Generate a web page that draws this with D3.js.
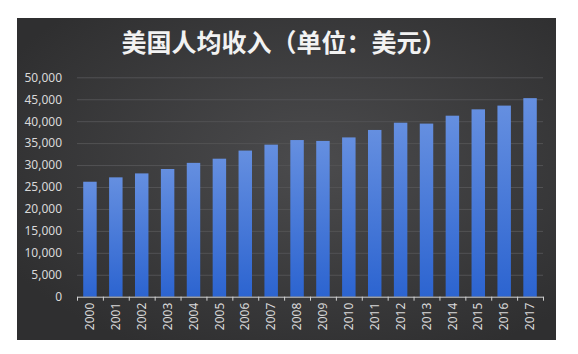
<!DOCTYPE html>
<html>
<head>
<meta charset="utf-8">
<script src="https://cdn.jsdelivr.net/npm/d3@7"></script>
<style>
  body { margin: 0; background: #fff; }
  svg { display: block; }
</style>
</head>
<body>
<div class="chart"></div>
<script>
    // data
    const years = ['2000','2001','2002','2003','2004','2005','2006','2007','2008',
        '2009','2010','2011','2012','2013','2014','2015','2016','2017'];
    const income = [26200, 27200, 28100, 29100, 30500, 31450, 33300, 34650, 35700,
        35500, 36300, 38000, 39650, 39450, 41250, 42700, 43550, 45250];
    const yTicks = [0, 5000, 10000, 15000, 20000, 25000, 30000, 35000, 40000, 45000, 50000];
    const title = '美国人均收入（单位：美元）';

    const W = 578, H = 354;
    const panel = {x: 17, y: 18, w: 539, h: 322};
    const plot = {left: 77, right: 543, top: 77.3, bottom: 296.7};

    const svg = d3.select('.chart')
        .append('svg')
        .attr('width', W)
        .attr('height', H);

    const defs = svg.append('defs');
    const bg = defs.append('radialGradient')
        .attr('id', 'bg')
        .attr('cx', '55%').attr('cy', '45%').attr('r', '65%');
    bg.append('stop').attr('offset', '0%').attr('stop-color', '#4b4b4d');
    bg.append('stop').attr('offset', '100%').attr('stop-color', '#2f2f30');

    const barGrad = defs.append('linearGradient')
        .attr('id', 'barGrad')
        .attr('x1', 0).attr('y1', 0).attr('x2', 0).attr('y2', 1);
    barGrad.append('stop').attr('offset', '0%').attr('stop-color', '#658fe0');
    barGrad.append('stop').attr('offset', '100%').attr('stop-color', '#2c64d0');

    svg.append('rect')
        .attr('x', panel.x).attr('y', panel.y)
        .attr('width', panel.w).attr('height', panel.h)
        .attr('fill', 'url(#bg)');

    svg.append('text')
        .attr('x', 284)
        .attr('y', 52)
        .attr('text-anchor', 'middle')
        .attr('fill', '#f2f2f2')
        .style('font-family', '"Noto Sans CJK SC", sans-serif')
        .style('font-size', '25px')
        .style('font-weight', 'bold')
        .text(title);

    const xScale = d3.scaleBand()
        .domain(years)
        .range([plot.left, plot.right])
        .paddingInner(0.48)
        .paddingOuter(0.24);
    const yScale = d3.scaleLinear()
        .domain([0, 50000])
        .range([plot.bottom, plot.top]);

    // gridlines
    svg.append('g')
        .attr('class', 'grid')
        .attr('transform', 'translate(' + plot.left + ',0)')
        .call(d3.axisLeft(yScale)
            .tickValues(yTicks.slice(1))
            .tickSize(-(plot.right - plot.left))
            .tickFormat(''))
        .call(g => g.select('.domain').remove())
        .call(g => g.selectAll('line').attr('stroke', '#525254').attr('stroke-width', 1));

    // y axis labels
    svg.append('g')
        .attr('class', 'yAxis')
        .attr('transform', 'translate(' + plot.left + ',0)')
        .call(d3.axisLeft(yScale)
            .tickValues(yTicks)
            .tickSize(0)
            .tickPadding(15)
            .tickFormat(d3.format(',')))
        .call(g => g.select('.domain').remove())
        .call(g => g.selectAll('text')
            .attr('fill', '#d9d9d9')
            .style('font-family', '"Noto Sans", sans-serif')
            .style('font-size', '12px'));

    // bars
    svg.append('g')
        .selectAll('rect')
        .data(income)
        .enter()
        .append('rect')
        .attr('x', (d, i) => xScale(years[i]))
        .attr('y', d => yScale(d))
        .attr('width', xScale.bandwidth())
        .attr('height', d => yScale(0) - yScale(d))
        .attr('fill', 'url(#barGrad)');

    // x axis: ticks between categories
    const edge = d3.scaleLinear().domain([0, years.length]).range([plot.left, plot.right]);
    svg.append('g')
        .attr('transform', 'translate(0,' + plot.bottom + ')')
        .call(d3.axisBottom(edge)
            .tickValues(d3.range(years.length + 1))
            .tickSize(4)
            .tickSizeOuter(0)
            .tickFormat(''))
        .call(g => g.selectAll('line, path').attr('stroke', '#d0d0d0'));

    svg.append('g')
        .attr('transform', 'translate(0,' + plot.bottom + ')')
        .call(d3.axisBottom(xScale).tickSize(0).tickPadding(0))
        .call(g => g.select('.domain').remove())
        .call(g => g.selectAll('text')
            .attr('transform', 'rotate(-90)')
            .attr('x', -6)
            .attr('y', 0)
            .attr('dy', '0.35em')
            .attr('text-anchor', 'end')
            .attr('fill', '#d9d9d9')
            .style('font-family', '"Noto Sans", sans-serif')
            .style('font-size', '12px'));
</script>
</body>
</html>
